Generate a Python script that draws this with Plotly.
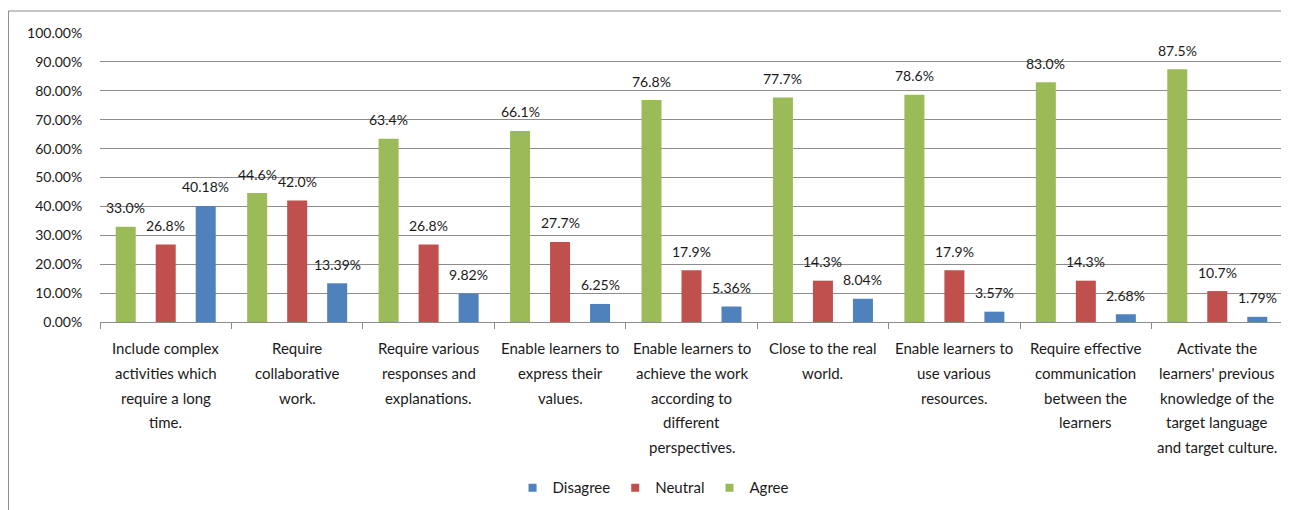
import plotly.graph_objects as go

categories = [
    "Include complex activities which require a long time.",
    "Require collaborative work.",
    "Require various responses and explanations.",
    "Enable learners to express their values.",
    "Enable learners to achieve the work according to different perspectives.",
    "Close to the real world.",
    "Enable learners to use various resources.",
    "Require effective communication between the learners",
    "Activate the learners' previous knowledge of the target language and target culture.",
]
category_lines = [
    ["Include complex", "activities which", "require a long", "time."],
    ["Require", "collaborative", "work."],
    ["Require various", "responses and", "explanations."],
    ["Enable learners to", "express their", "values."],
    ["Enable learners to", "achieve the work", "according to", "different", "perspectives."],
    ["Close to the real", "world."],
    ["Enable learners to", "use various", "resources."],
    ["Require effective", "communication", "between the", "learners"],
    ["Activate the", "learners' previous", "knowledge of the", "target language", "and target culture."],
]
agree = [33.0, 44.6, 63.4, 66.1, 76.8, 77.7, 78.6, 83.0, 87.5]
neutral = [26.8, 42.0, 26.8, 27.7, 17.9, 14.3, 17.9, 14.3, 10.7]
disagree = [40.18, 13.39, 9.82, 6.25, 5.36, 8.04, 3.57, 2.68, 1.79]
y_ticks = [0, 10, 20, 30, 40, 50, 60, 70, 80, 90, 100]

GREEN = "#9BBB59"
RED = "#C0504D"
BLUE = "#4F81BD"
FONT = "Lato"
GRID = "#8C8C8C"

series = [
    ("Agree", agree, GREEN, "{:.1f}%"),
    ("Neutral", neutral, RED, "{:.1f}%"),
    ("Disagree", disagree, BLUE, "{:.2f}%"),
]

fig = go.Figure()
for name, vals, col, fmt in series:
    fig.add_trace(go.Bar(x=categories, y=vals, name=name, marker_color=col,
                         marker_line_width=0, showlegend=False))

# legend entries with small square markers (order Disagree, Neutral, Agree)
for name, vals, col, fmt in reversed(series):
    fig.add_trace(go.Scatter(x=[None], y=[None], mode="markers", name=name,
                             marker=dict(symbol="square", size=8, color=col)))

annotations = []
slot = 40
for k, (name, vals, col, fmt) in enumerate(series):
    for c, v in zip(categories, vals):
        annotations.append(dict(x=c, y=v, xref="x", yref="y", text=fmt.format(v),
                                showarrow=False, xshift=(k - 1) * slot, yshift=19,
                                yanchor="middle", font=dict(family=FONT, size=14, color="#1a1a1a")))

for c, lines in zip(categories, category_lines):
    for i, line in enumerate(lines):
        annotations.append(dict(x=c, y=0, xref="x", yref="paper", text=line,
                                showarrow=False, yanchor="middle", yshift=-(26 + 24.75 * i),
                                font=dict(family=FONT, size=15, color="#1a1a1a")))

fig.update_layout(
    width=1281, height=502,
    margin=dict(l=92, r=6, t=25, b=188),
    paper_bgcolor="white", plot_bgcolor="white",
    barmode="group", bargap=0.087, bargroupgap=0.5,
    font=dict(family=FONT, size=14, color="#1a1a1a"),
    annotations=annotations,
    legend=dict(orientation="h", x=0.4675, xanchor="center", y=-0.574, yanchor="middle",
                font=dict(family=FONT, size=15, color="#1a1a1a"), itemwidth=30,
                bgcolor="rgba(0,0,0,0)"),
    shapes=[
        dict(type="rect", xref="paper", yref="paper", x0=-0.0774, x1=1.02, y0=-0.7, y1=1.0761,
             line=dict(color="#888888", width=1), layer="below"),
        dict(type="line", xref="paper", yref="paper", x0=1, x1=1, y0=0, y1=1,
             line=dict(color=GRID, width=1)),
    ],
)
fig.update_xaxes(showticklabels=False, ticks="outside", tickson="boundaries", ticklen=6,
                 tickcolor=GRID, showline=True, linecolor=GRID, linewidth=1,
                 showgrid=False, zeroline=False)
fig.update_yaxes(range=[0, 100], tickvals=y_ticks, ticktext=[f"{t:.2f}%" for t in y_ticks],
                 showgrid=True, gridcolor=GRID, gridwidth=1, zeroline=False, showline=False,
                 ticks="outside", ticklen=14, tickcolor="rgba(0,0,0,0)",
                 tickfont=dict(family=FONT, size=14, color="#1a1a1a"))

fig.write_html("out.html")
